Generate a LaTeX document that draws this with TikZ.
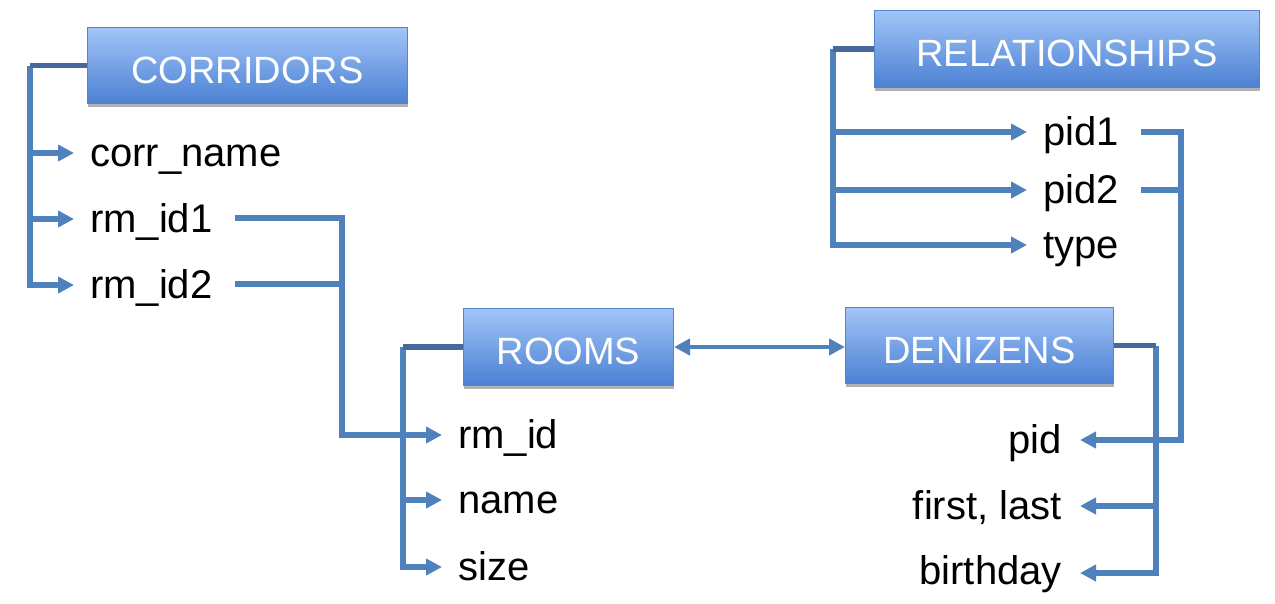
\documentclass[tikz,border=0pt]{standalone}
\usepackage{fontspec}
\setmainfont{Liberation Sans}
\usetikzlibrary{arrows.meta,shadows}
\definecolor{lnc}{HTML}{4F81BD}
\definecolor{lnd}{HTML}{46699A}
\definecolor{boxtop}{HTML}{A2C5F8}
\definecolor{boxbot}{HTML}{4B80D2}
\definecolor{boxedge}{HTML}{5585C8}
\begin{document}
\begin{tikzpicture}[x=1pt,y=-1pt,
  >={Triangle[length=16pt,width=16pt]},
  tbl/.style={draw=boxedge, line width=1pt, top color=boxtop, bottom color=boxbot,
    text=white, font=\fontsize{38}{40}\selectfont, inner sep=0pt, anchor=north west,
    text height=35pt, text depth=0pt,
    drop shadow={shadow xshift=0pt, shadow yshift=-3pt, opacity=0.3, fill=black}},
  field/.style={inner sep=0pt, font=\fontsize{40}{43}\selectfont, text=black},
  ln/.style={draw=lnc, line width=5.5pt},
  stub/.style={draw=lnd, line width=5.5pt},
  dbl/.style={draw=lnc, line width=4pt}]
\useasboundingbox (0,0) rectangle (1275,603);
\fill[white] (0,0) rectangle (1275,603);

% tables
\node[tbl, minimum width=320pt, minimum height=76pt] (corr) at (87,27) {CORRIDORS};
\node[tbl, minimum width=210pt, minimum height=77pt] (rooms) at (463,308) {ROOMS};
\node[tbl, minimum width=268pt, minimum height=76pt] (den) at (845,307) {DENIZENS};
\node[tbl, minimum width=385pt, minimum height=77pt] (rel) at (874,10) {RELATIONSHIPS};

% fields
\node[field, anchor=base west] (cn) at (90,166) {corr\_name};
\node[field, anchor=base west] (r1) at (90,232) {rm\_id1};
\node[field, anchor=base west] (r2) at (90,298) {rm\_id2};
\node[field, anchor=base west] (rmid) at (458,448) {rm\_id};
\node[field, anchor=base west] (rname) at (458,513) {name};
\node[field, anchor=base west] (rsize) at (458,580) {size};
\node[field, anchor=base west] (p1) at (1043,145) {pid1};
\node[field, anchor=base west] (p2) at (1043,203) {pid2};
\node[field, anchor=base west] (ptype) at (1043,258) {type};
\node[field, anchor=base east] (pid) at (1062,453) {pid};
\node[field, anchor=base east] (fl) at (1062,519) {first, last};
\node[field, anchor=base east] (bd) at (1062,584) {birthday};

% arrow tips and line starts
\coordinate (t-cn) at ([shift={(-16,-13)}]cn.base west);
\coordinate (t-r1) at ([shift={(-16,-13)}]r1.base west);
\coordinate (t-r2) at ([shift={(-16,-13)}]r2.base west);
\coordinate (t-rmid) at ([shift={(-16,-13)}]rmid.base west);
\coordinate (t-rname) at ([shift={(-16,-13)}]rname.base west);
\coordinate (t-rsize) at ([shift={(-16,-13)}]rsize.base west);
\coordinate (t-p1) at ([shift={(-16,-13)}]p1.base west);
\coordinate (t-p2) at ([shift={(-16,-13)}]p2.base west);
\coordinate (t-ptype) at ([shift={(-16,-13)}]ptype.base west);
\coordinate (t-pid) at ([shift={(18,-13)}]pid.base east);
\coordinate (t-fl) at ([shift={(18,-13)}]fl.base east);
\coordinate (t-bd) at ([shift={(18,-11)}]bd.base east);
\coordinate (s-r1) at ([shift={(22,-14)}]r1.base east);
\coordinate (s-r2) at ([shift={(22,-14)}]r2.base east);
\coordinate (s-p1) at ([shift={(22,-13)}]p1.base east);
\coordinate (s-p2) at ([shift={(22,-13)}]p2.base east);

% bends
\coordinate (cb) at ([xshift=-57pt]corr.west);
\coordinate (rb) at ([xshift=-60pt]rooms.west);
\coordinate (lb) at ([xshift=-41pt]rel.west);
\coordinate (db) at ([xshift=42pt]den.east);
\coordinate (ccol) at (342,0);
\coordinate (rcol) at (1181,0);

% CORRIDORS
\draw[ln,->] (cb) |- (t-r2);
\draw[ln,->] (cb |- t-cn) -- (t-cn);
\draw[ln,->] (cb |- t-r1) -- (t-r1);
\draw[stub] (corr.west) -- (cb);

% ROOMS
\draw[ln,->] (rb) |- (t-rsize);
\draw[ln,->] (rb |- t-rname) -- (t-rname);
\draw[stub] (rooms.west) -- (rb);

% RELATIONSHIPS
\draw[ln,->] (lb) |- (t-ptype);
\draw[ln,->] (lb |- t-p1) -- (t-p1);
\draw[ln,->] (lb |- t-p2) -- (t-p2);
\draw[stub] (rel.west) -- (lb);

% DENIZENS
\draw[ln,->] (db) |- (t-bd);
\draw[ln,->] (db |- t-fl) -- (t-fl);
\draw[stub] (den.east) -- (db);

% rm_id1 / rm_id2 -> rm_id
\draw[ln,->] (s-r1) -| (ccol |- t-rmid) -- (t-rmid);
\draw[ln] (s-r2) -- (ccol |- s-r2);

% pid1 / pid2 -> pid
\draw[ln,->] (s-p1) -| (rcol |- t-pid) -- (t-pid);
\draw[ln] (s-p2) -- (rcol |- s-p2);

% ROOMS <-> DENIZENS
\draw[dbl,<->] (rooms.east) -- (rooms.east -| den.west);
\end{tikzpicture}
\end{document}
